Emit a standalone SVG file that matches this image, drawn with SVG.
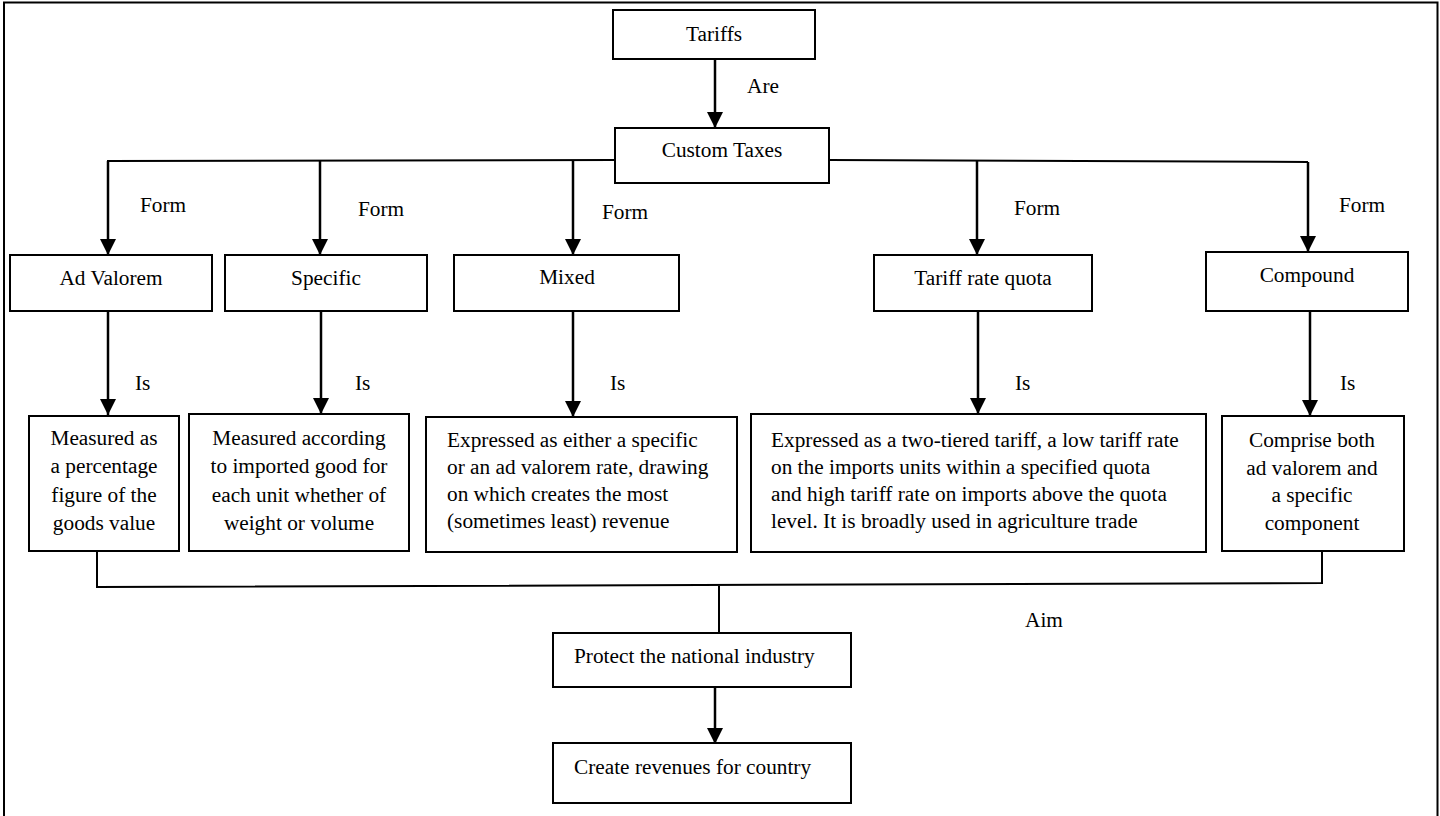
<svg xmlns="http://www.w3.org/2000/svg" width="1440" height="816" viewBox="0 0 1440 816">
<style>
  text { font-family: "Liberation Serif", "Times New Roman", serif; font-size: 21.3px; fill: #000; }
  .c { text-anchor: middle; }
  .box { fill: #fff; stroke: #000; stroke-width: 2; }
  .ln { fill: none; stroke: #000; stroke-width: 2; }
  .ar { fill: none; stroke: #000; stroke-width: 2.5; marker-end: url(#ah); }
</style>
<defs>
  <marker id="ah" markerUnits="userSpaceOnUse" markerWidth="16" markerHeight="16" viewBox="0 0 16 16" refX="16" refY="8" orient="auto">
    <path d="M0,0 L16,8 L0,16 Z" fill="#000"/>
  </marker>
</defs>
<rect x="0" y="0" width="1440" height="816" fill="#fff"/>
<path d="M4,830 L4,2.5 L1437.5,2.5 L1437.5,830" fill="none" stroke="#000" stroke-width="2"/>

<g id="connectors">
  <line class="ar" x1="715" y1="59" x2="715" y2="128"/>
  <polyline class="ln" points="615,160 108,161 108,162"/>
  <polyline class="ln" points="829,160 1308,162"/>
  <line class="ar" x1="108" y1="161" x2="108" y2="255"/>
  <line class="ar" x1="320" y1="161" x2="320" y2="255"/>
  <line class="ar" x1="573" y1="160" x2="573" y2="255"/>
  <line class="ar" x1="977" y1="161" x2="977" y2="255"/>
  <line class="ar" x1="1308" y1="162" x2="1308" y2="252"/>
  <line class="ar" x1="108" y1="311" x2="108" y2="415"/>
  <line class="ar" x1="321" y1="311" x2="321" y2="414"/>
  <line class="ar" x1="573" y1="311" x2="573" y2="417"/>
  <line class="ar" x1="978" y1="311" x2="978" y2="414"/>
  <line class="ar" x1="1310" y1="311" x2="1310" y2="416"/>
  <polyline class="ln" points="97,551 97,587 1322,583 1322,551"/>
  <line class="ln" x1="719" y1="586" x2="719" y2="633"/>
  <line class="ar" x1="715" y1="687" x2="715" y2="744"/>
  <text x="747" y="93">Are</text>
  <text x="140" y="212">Form</text>
  <text x="358" y="216">Form</text>
  <text x="602" y="219">Form</text>
  <text x="1014" y="215">Form</text>
  <text x="1339" y="212">Form</text>
  <text x="135" y="390">Is</text>
  <text x="355" y="390">Is</text>
  <text x="610" y="390">Is</text>
  <text x="1015" y="390">Is</text>
  <text x="1340" y="390">Is</text>
  <text x="1025" y="627">Aim</text>
</g>

<g id="tariffs">
  <rect class="box" x="613" y="10" width="202" height="49"/>
  <text class="c" x="714" y="41">Tariffs</text>
</g>
<g id="custom-taxes">
  <rect class="box" x="615" y="128" width="214" height="55"/>
  <text class="c" x="722" y="157">Custom Taxes</text>
</g>

<g id="ad-valorem">
  <rect class="box" x="10" y="255" width="202" height="56"/>
  <text class="c" x="111" y="285">Ad Valorem</text>
</g>
<g id="specific">
  <rect class="box" x="225" y="255" width="202" height="56"/>
  <text class="c" x="326" y="285">Specific</text>
</g>
<g id="mixed">
  <rect class="box" x="454" y="255" width="225" height="56"/>
  <text class="c" x="567" y="284">Mixed</text>
</g>
<g id="tariff-rate-quota">
  <rect class="box" x="874" y="255" width="218" height="56"/>
  <text class="c" x="983" y="285">Tariff rate quota</text>
</g>
<g id="compound">
  <rect class="box" x="1206" y="252" width="202" height="59"/>
  <text class="c" x="1307" y="282">Compound</text>
</g>

<g id="ad-valorem-desc">
  <rect class="box" x="29" y="416" width="150" height="135"/>
  <text class="c" x="104" y="445">Measured as</text>
  <text class="c" x="104" y="473">a percentage</text>
  <text class="c" x="104" y="502">figure of the</text>
  <text class="c" x="104" y="530">goods value</text>
</g>
<g id="specific-desc">
  <rect class="box" x="189" y="414" width="220" height="137"/>
  <text class="c" x="299" y="445">Measured according</text>
  <text class="c" x="299" y="473">to imported good for</text>
  <text class="c" x="299" y="502">each unit whether of</text>
  <text class="c" x="299" y="530">weight or  volume</text>
</g>
<g id="mixed-desc">
  <rect class="box" x="426" y="417" width="311" height="135"/>
  <text x="447" y="447">Expressed as either a specific</text>
  <text x="447" y="474">or an ad valorem rate, drawing</text>
  <text x="447" y="501">on which creates the most</text>
  <text x="447" y="528">(sometimes least) revenue</text>
</g>
<g id="tariff-rate-quota-desc">
  <rect class="box" x="751" y="414" width="455" height="138"/>
  <text x="771" y="447">Expressed as a two-tiered tariff, a low tariff rate</text>
  <text x="771" y="474">on the imports units within a  specified quota</text>
  <text x="771" y="501">and high tariff rate on imports above the quota</text>
  <text x="771" y="528">level. It is broadly used in agriculture trade</text>
</g>
<g id="compound-desc">
  <rect class="box" x="1222" y="416" width="182" height="135"/>
  <text class="c" x="1312" y="447">Comprise both</text>
  <text class="c" x="1312" y="475">ad valorem and</text>
  <text class="c" x="1312" y="502">a specific</text>
  <text class="c" x="1312" y="530">component</text>
</g>

<g id="protect">
  <rect class="box" x="553" y="633" width="298" height="54"/>
  <text x="574" y="663">Protect the national industry</text>
</g>
<g id="revenues">
  <rect class="box" x="553" y="743" width="298" height="60"/>
  <text x="574" y="774">Create revenues for country</text>
</g>
</svg>
